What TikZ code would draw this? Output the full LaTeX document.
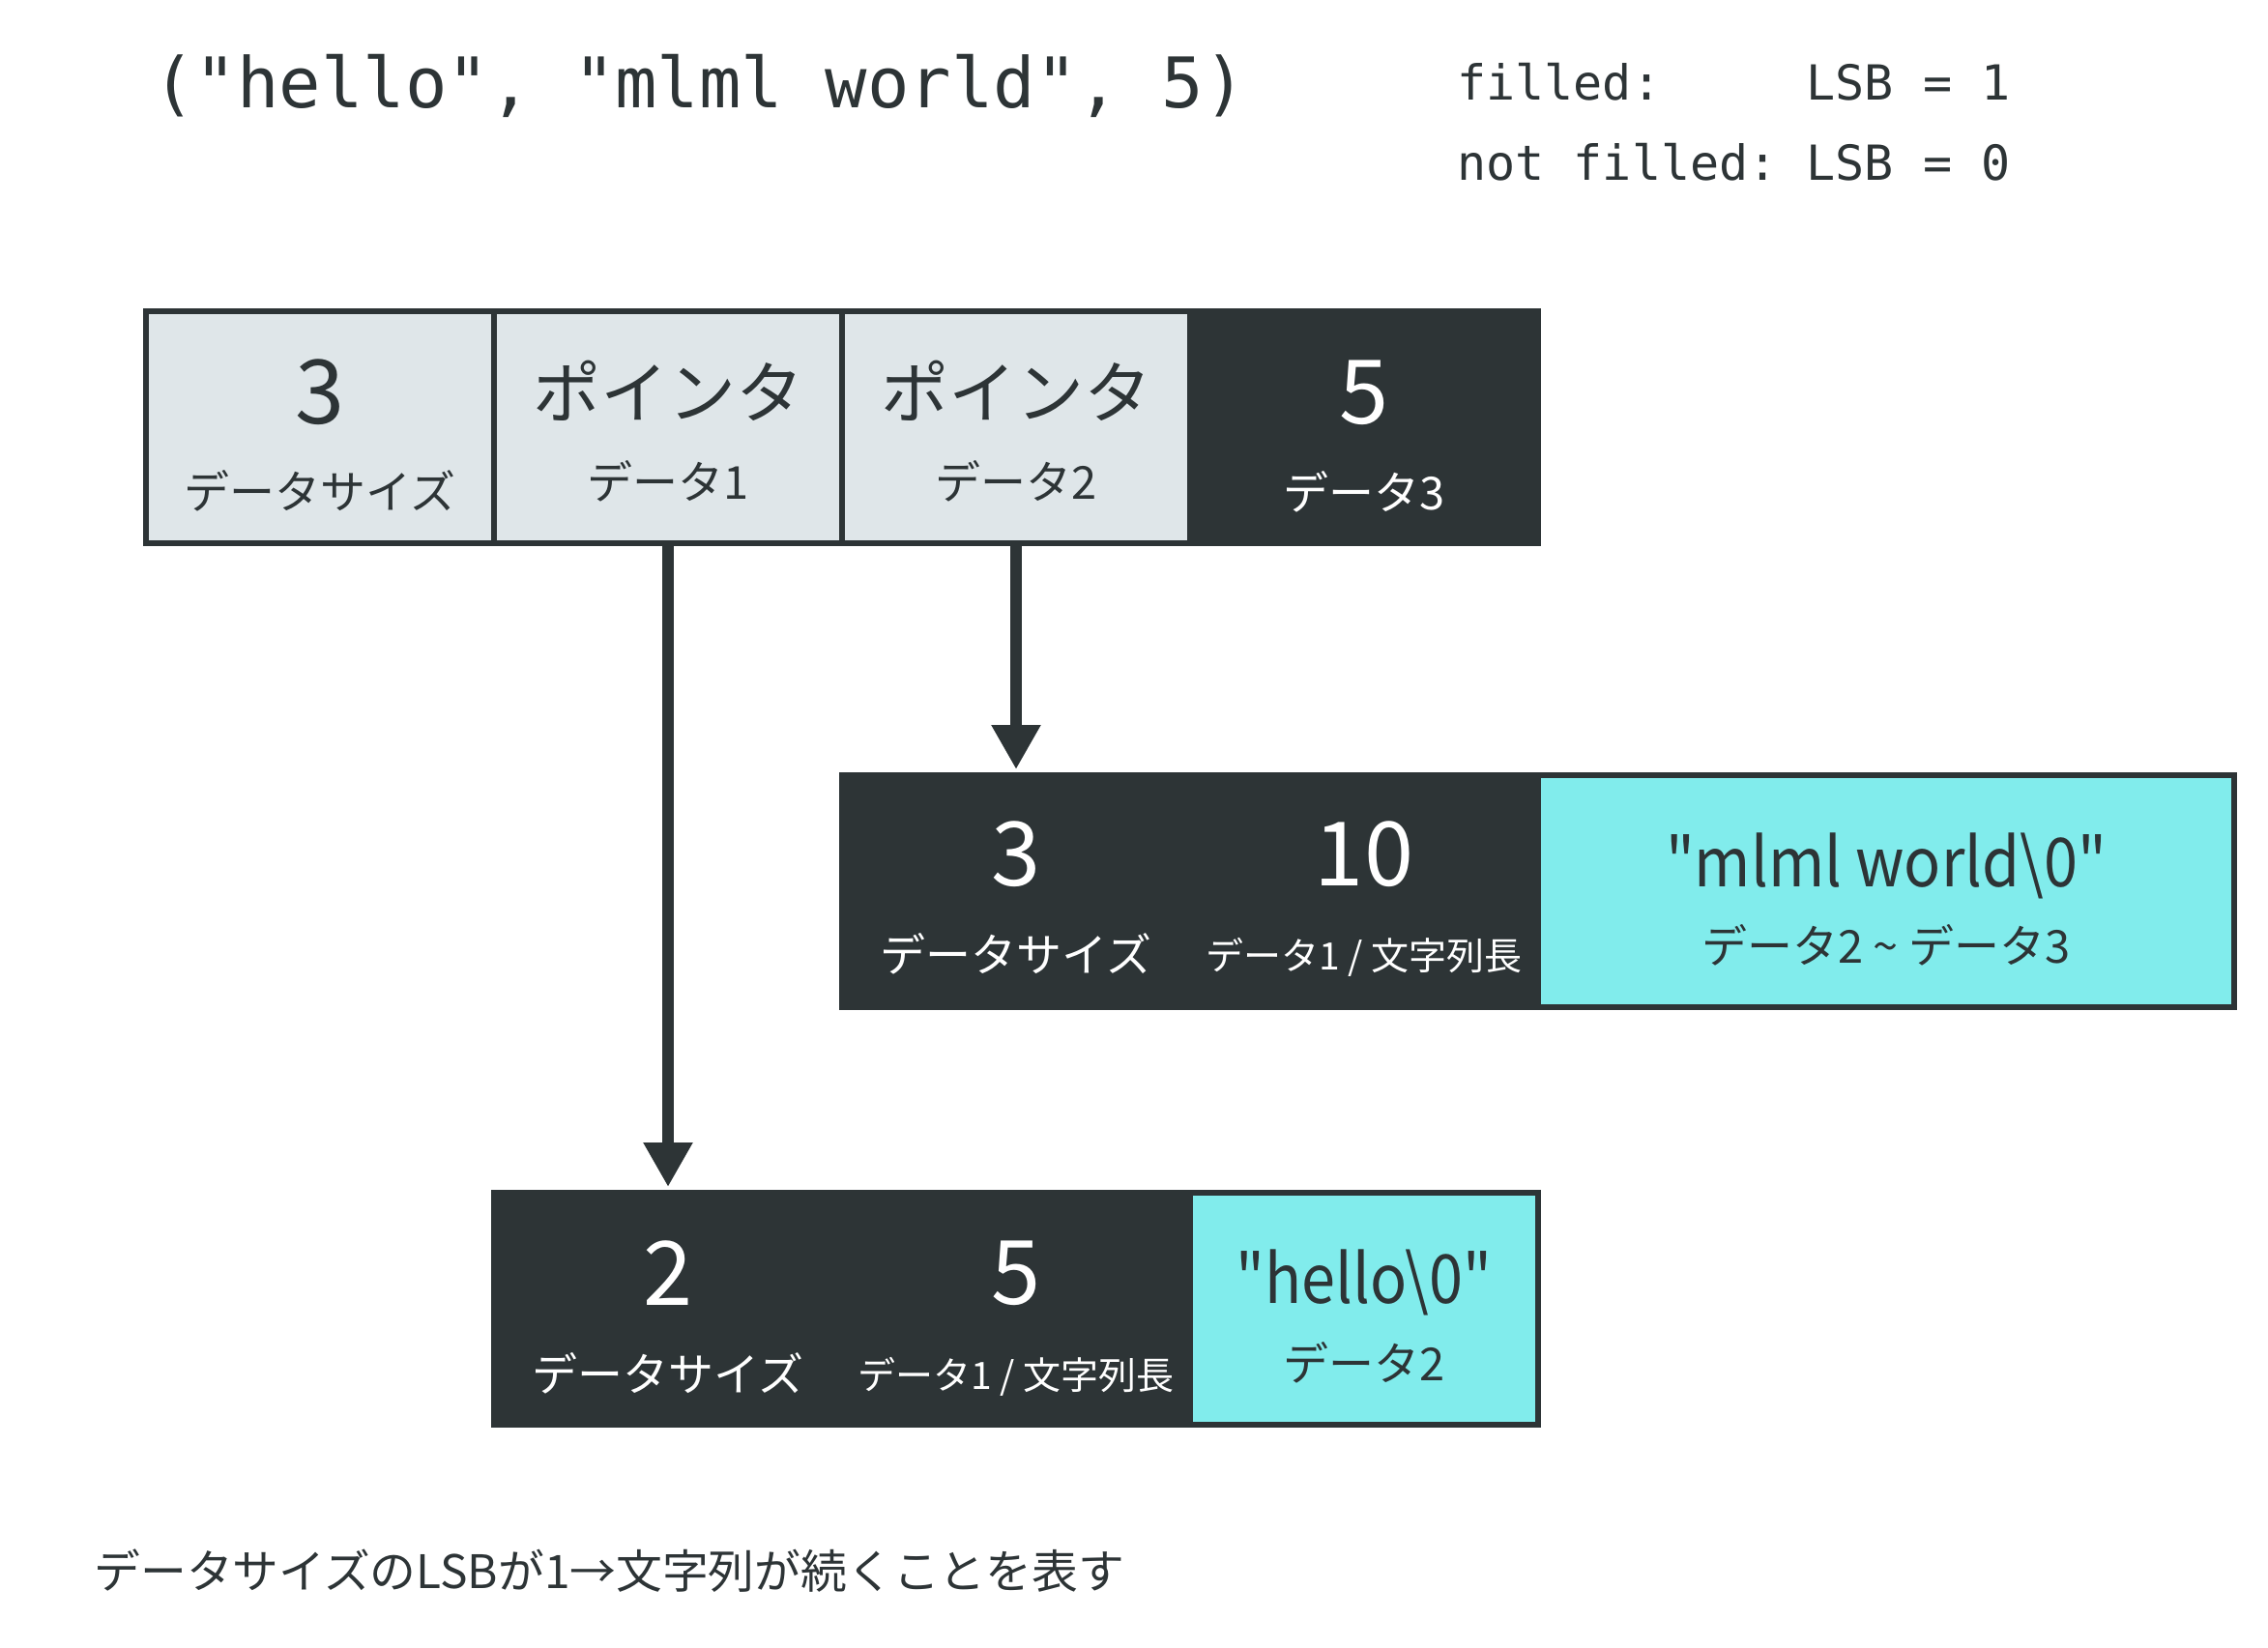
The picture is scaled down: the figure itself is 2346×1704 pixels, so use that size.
\documentclass[tikz,border=0pt]{standalone}
\usepackage{fontspec}
\usepackage{graphicx}
\usetikzlibrary{arrows.meta}
\newfontfamily\jp{Noto Sans CJK JP}
\newfontfamily\mono{DejaVu Sans Mono}
\definecolor{ink}{HTML}{2D3436}
\definecolor{lightgrey}{HTML}{DFE6E9}
\definecolor{cyanbox}{HTML}{81ECEC}
\frenchspacing
\tikzset{
 cell/.style={draw=ink, line width=3pt, minimum width=180pt, minimum height=120pt, inner sep=0pt},
 lightcell/.style={cell, fill=lightgrey},
 darkcell/.style={cell, fill=ink},
 strcell/.style={cell, fill=cyanbox, minimum width=360pt},
 strcellS/.style={cell, fill=cyanbox},
 big/.style={font=\jp\fontsize{46}{46}\selectfont, inner sep=0pt},
 kana/.style={font=\jp\fontsize{35}{35}\selectfont, inner sep=0pt},
 strtxt/.style={font=\jp\fontsize{35}{35}\selectfont, inner sep=0pt, anchor=base, text=ink},
 lbl/.style={font=\jp\fontsize{23.5}{23.5}\selectfont, inner sep=0pt},
 notetxt/.style={font=\jp\fontsize{23.9}{23.9}\selectfont, inner sep=0pt},
 smalllbl/.style={font=\jp\fontsize{19.5}{19.5}\selectfont, inner sep=0pt},
 monotxt/.style={font=\mono\fontsize{25}{25}\selectfont, text=ink, anchor=west, inner sep=0pt},
 ptr/.style={draw=ink, line width=6pt, -{Triangle[width=24pt,length=23pt]}},
}
\begin{document}
\begin{tikzpicture}[x=0.5pt,y=-0.5pt]
\fill[white] (0,0) rectangle (2346,1704);
\useasboundingbox (0,0) rectangle (2346,1704);

% title and legend
\node[font=\mono\fontsize{36.1}{36.1}\selectfont, text=ink, anchor=west, inner sep=0pt] (title) at (158,89) {("hello", "mlml world", 5)};
\node[monotxt] (leg1) at (1507,85) {filled:\phantom{xxxxx}LSB = 1};
\node[monotxt] (leg2) at (1507,168) {not filled: LSB = 0};

% top row
\node[lightcell] (c1) at (331,442) {};
\node[lightcell] (c2) at (691,442) {};
\node[lightcell] (c3) at (1051,442) {};
\node[darkcell] (c4) at (1411,442) {};
\node[big, text=ink] (c1v) at (331,406) {3};
\node[lbl, text=ink] (c1l) at (331,508) {データサイズ};
\node[kana, text=ink] (c2v) at (691,404) {ポインタ};
\node[lbl, text=ink] (c2l) at (691,498) {データ1};
\node[kana, text=ink] (c3v) at (1051,404) {ポインタ};
\node[lbl, text=ink] (c3l) at (1051,498) {データ2};
\node[big, text=white] (c4v) at (1411,406) {5};
\node[lbl, text=white] (c4l) at (1411,509) {データ3};

% middle row
\node[darkcell] (m1) at (1051,922) {};
\node[darkcell] (m2) at (1411,922) {};
\node[strcell] (m3) at (1951,922) {};
\node[big, text=white] (m1v) at (1051,884) {3};
\node[lbl, text=white] (m1l) at (1051,987) {データサイズ};
\node[big, text=white] (m2v) at (1411,884) {10};
\node[smalllbl, text=white] (m2l) at (1411,990) {データ1 / 文字列長};
\node[strtxt] (m3v) at (1951,917) {\scalebox{0.9}[1]{"mlml world\textbackslash 0"}};
\node[lbl, text=ink] (m3l) at (1951,978) {データ2 \string~ データ3};

% bottom row
\node[darkcell] (b1) at (691,1354) {};
\node[darkcell] (b2) at (1051,1354) {};
\node[strcellS] (b3) at (1411,1354) {};
\node[big, text=white] (b1v) at (691,1317) {2};
\node[lbl, text=white] (b1l) at (691,1421) {データサイズ};
\node[big, text=white] (b2v) at (1051,1317) {5};
\node[smalllbl, text=white] (b2l) at (1051,1424) {データ1 / 文字列長};
\node[strtxt] (b3v) at (1411,1348) {\scalebox{0.9}[1]{"hello\textbackslash 0"}};
\node[lbl, text=ink] (b3l) at (1411,1410) {データ2};

% pointers
\draw[ptr] (c2.south) -- ([yshift=1.5pt]b1.north);
\draw[ptr] (c3.south) -- ([yshift=1.5pt]m1.north);

% note
\node[notetxt, text=ink, anchor=west] (note) at (97,1625) {データサイズのLSBが1→文字列が続くことを表す};
\end{tikzpicture}
\end{document}
